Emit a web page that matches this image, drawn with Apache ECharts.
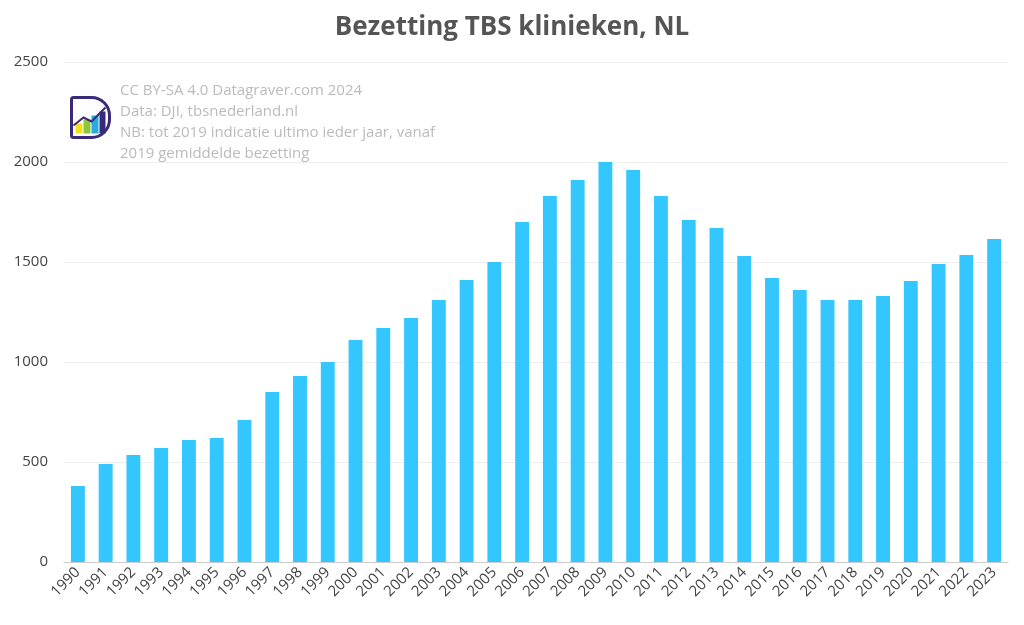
<!DOCTYPE html>
<html>
<head>
<meta charset="utf-8">
<script src="https://cdn.jsdelivr.net/npm/echarts@6/dist/echarts.min.js"></script>
<style>html,body{margin:0;padding:0;background:#fff}#chart{width:1024px;height:625px}</style>
</head>
<body>
<div id="chart"></div>
<script>
var years = ['1990','1991','1992','1993','1994','1995','1996','1997','1998','1999','2000','2001','2002','2003','2004','2005','2006','2007','2008','2009','2010','2011','2012','2013','2014','2015','2016','2017','2018','2019','2020','2021','2022','2023'];
var bezetting = [380,490,535,570,610,620,710,850,930,1000,1110,1170,1220,1310,1410,1500,1700,1830,1910,2000,1960,1830,1710,1670,1530,1420,1360,1310,1310,1330,1405,1490,1535,1615];
var noteLines = ['CC BY-SA 4.0 Datagraver.com 2024','Data: DJI, tbsnederland.nl','NB: tot 2019 indicatie ultimo ieder jaar, vanaf','2019 gemiddelde bezetting'];

var myChart = echarts.init(document.getElementById('chart'));
var option = {
	textStyle: {fontFamily: 'Open Sans'},
	title: {
		text: 'Bezetting TBS klinieken, NL',
		left: 'center',
		top: 10,
		textStyle: {color: '#555', fontSize: 26, fontWeight: 'bold', fontFamily: 'Open Sans'}
	},
	grid: {left: 64, right: 16, top: 62, bottom: 63},
	xAxis: {
		type: 'category',
		data: years,
		axisTick: {show: false},
		axisLine: {lineStyle: {color: '#ccc'}},
		axisLabel: {rotate: 45, color: '#444', fontSize: 15, interval: 0}
	},
	yAxis: {
		type: 'value',
		min: 0,
		max: 2500,
		interval: 500,
		axisLabel: {color: '#444', fontSize: 15, margin: 16, formatter: function (v) { return String(v); }},
		splitLine: {lineStyle: {color: '#eee'}}
	},
	graphic: [
		{type: 'text', left: 120, top: 80, style: {text: noteLines.join('\n'), fill: '#bbb', fontSize: 15, lineHeight: 21, fontFamily: 'Open Sans'}},
		{type: 'group', left: 70, top: 96, children: [
			{type: 'rect', shape: {x: 0, y: 0, width: 38, height: 40, r: [2, 18, 18, 2]}, style: {fill: '#fff', stroke: '#3b2a7a', lineWidth: 3}},
			{type: 'rect', shape: {x: 4, y: 26, width: 7, height: 10}, style: {fill: '#f2e21b'}},
			{type: 'rect', shape: {x: 12, y: 22, width: 7, height: 14}, style: {fill: '#8cc63f'}},
			{type: 'rect', shape: {x: 20, y: 18, width: 7, height: 18}, style: {fill: '#29abe2'}},
			{type: 'rect', shape: {x: 28, y: 14, width: 6, height: 22}, style: {fill: '#3b2a7a'}},
			{type: 'polyline', shape: {points: [[2, 28], [12, 20], [20, 24], [34, 10]]}, style: {stroke: '#3b2a7a', lineWidth: 2, fill: null}}
		]}
	],
	series: [{
		type: 'bar',
		data: bezetting,
		barWidth: '50%',
		itemStyle: {color: '#33c6ff'}
	}]
};
myChart.setOption(option);
</script>
</body>
</html>
